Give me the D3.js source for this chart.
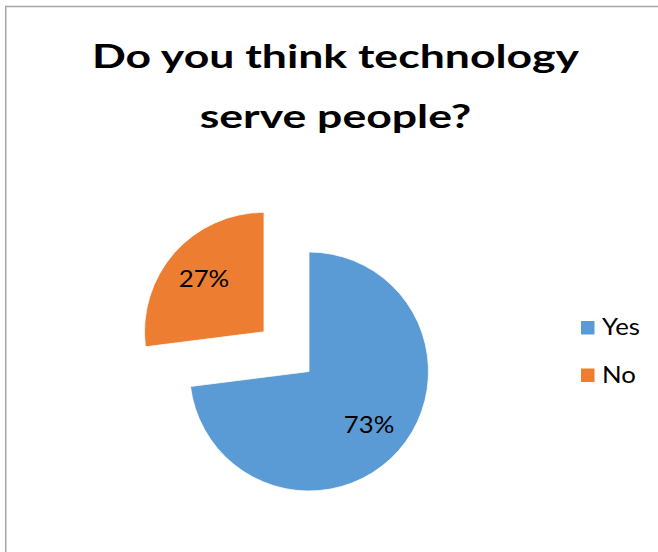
<!DOCTYPE html>
<html>
<head>
<meta charset="utf-8">
<script src="https://cdn.jsdelivr.net/npm/d3@7"></script>
<style>
  html, body { margin: 0; padding: 0; background: #fff; }
  svg { display: block; }
  text { font-family: Lato, "Open Sans", sans-serif; }
</style>
</head>
<body>
<svg id="chart" width="658" height="552"></svg>
<script>
// Survey answers and their shares
const categories = ["Yes", "No"];
const shares = [73, 27];
const colors = ["#5B9BD5", "#ED7D31"];
const titleLines = ["Do you think technology", "serve people?"];
// slices pulled out from the centre (pixels)
const explode = [0, 60];

const svg = d3.select("#chart");

// a wider typeface is emulated by stretching glyphs horizontally
function widen(stretch) {
  return sel => sel.each(function () {
    const w = this.getComputedTextLength();
    d3.select(this)
      .attr("textLength", w * stretch)
      .attr("lengthAdjust", "spacingAndGlyphs");
  });
}

// chart area frame
svg.append("rect")
  .attr("x", 5.75).attr("y", 6.5)
  .attr("width", 720).attr("height", 620)
  .attr("fill", "#fff")
  .attr("stroke", "#a6a6a6")
  .attr("stroke-width", 1.5);

// title
svg.append("g").selectAll("text")
  .data(titleLines)
  .join("text")
  .attr("x", 335.5)
  .attr("y", (d, i) => 68 + i * 60)
  .attr("text-anchor", "middle")
  .attr("font-size", 33)
  .attr("font-weight", "bold")
  .attr("fill", "#000")
  .text(d => d)
  .call(widen(1.35));

// pie
const cx = 309, cy = 371.5, radius = 119.5, labelR = 80;
const data = categories.map((c, i) => ({ name: c, value: shares[i], color: colors[i], off: explode[i] }));
const pie = d3.pie().sort(null).value(d => d.value).startAngle(0).endAngle(2 * Math.PI);
const arc = d3.arc().innerRadius(0).outerRadius(radius);
const labelArc = d3.arc().innerRadius(labelR).outerRadius(labelR);

const slices = svg.append("g")
  .attr("transform", `translate(${cx},${cy})`)
  .selectAll("g")
  .data(pie(data))
  .join("g")
  .attr("transform", d => {
    const mid = (d.startAngle + d.endAngle) / 2;
    const o = d.data.off;
    return `translate(${o * Math.sin(mid)},${-o * Math.cos(mid)})`;
  });

slices.append("path")
  .attr("d", arc)
  .attr("fill", d => d.data.color)
  .attr("stroke", "#fff")
  .attr("stroke-width", 0.75);

slices.append("text")
  .attr("transform", d => `translate(${labelArc.centroid(d)})`)
  .attr("text-anchor", "middle")
  .attr("dy", "0.36em")
  .attr("font-size", 23)
  .attr("fill", "#000")
  .text(d => d3.format(".0%")(d.data.value / d3.sum(shares)))
  .call(widen(1.12));

// legend
const legend = svg.append("g")
  .selectAll("g")
  .data(data)
  .join("g")
  .attr("transform", (d, i) => `translate(581,${321 + i * 47.5})`);

legend.append("rect")
  .attr("width", 13.5).attr("height", 13.5)
  .attr("fill", d => d.color);

legend.append("text")
  .attr("x", 21)
  .attr("y", 14)
  .attr("font-size", 23)
  .attr("fill", "#000")
  .text(d => d.name)
  .call(widen(1.12));
</script>
</body>
</html>
